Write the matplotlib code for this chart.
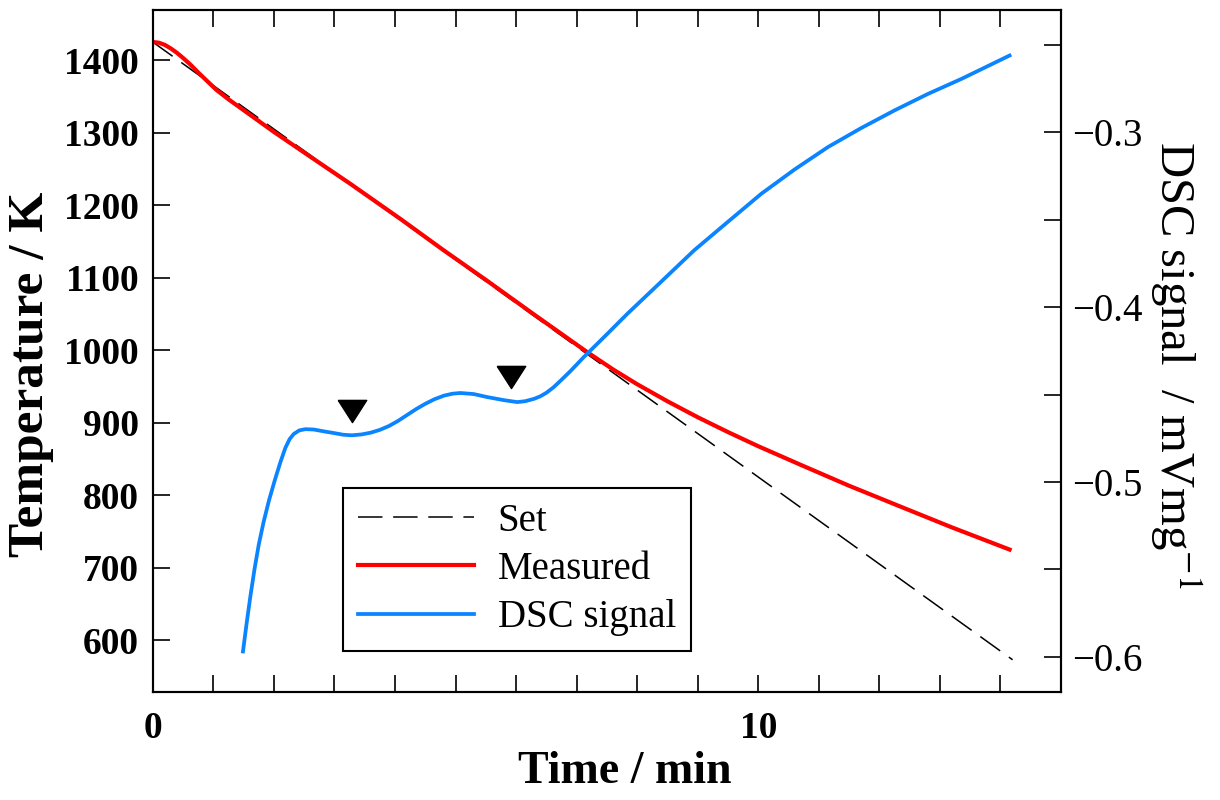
import numpy as np
import matplotlib
matplotlib.use("Agg")
import matplotlib.pyplot as plt
from matplotlib.ticker import MultipleLocator, FixedLocator

plt.rcParams['font.family'] = ['Liberation Serif', 'DejaVu Serif']
plt.rcParams['mathtext.fontset'] = 'stix'

# set temperature program (K vs min)
set_t = [0.0, 14.2]
set_T = [1425, 573]

# measured sample temperature
meas_t = [0.0, 0.1, 0.2, 0.3, 0.4, 0.5, 0.62, 0.75, 0.9, 1.05, 1.25, 1.45, 1.7, 2.0,
          2.44, 3.27, 4.09, 4.8, 5.5, 6.3, 7.18, 7.6, 8.0, 8.5, 9.0, 9.5, 10.0, 10.71,
          11.5, 12.37, 13.2, 14.15]
meas_T = [1425, 1424, 1421, 1416, 1410, 1403, 1394, 1383, 1371, 1359, 1346, 1334, 1319,
          1301, 1276, 1229, 1181, 1138, 1097, 1049, 997, 973.5, 953, 929.5, 907.5, 887,
          867.5, 841.5, 813, 783.5, 755.5, 725]

# DSC signal (mV/mg)
dsc_t = [1.49, 1.55, 1.61, 1.68, 1.75, 1.83, 1.92, 2.02, 2.11, 2.19, 2.26, 2.33, 2.42,
         2.52, 2.66, 2.85, 2.99, 3.15, 3.29, 3.45, 3.6, 3.75, 3.9, 4.05, 4.2, 4.35, 4.5,
         4.65, 4.81, 4.95, 5.08, 5.3, 5.52, 5.8, 6.02, 6.15, 6.3, 6.4, 6.5, 6.62, 6.74,
         6.9, 7.12, 7.5, 7.84, 8.3, 8.94, 9.5, 10.05, 10.6, 11.15, 11.7, 12.25, 12.8,
         13.36, 14.15]
dsc_S = [-0.597, -0.581, -0.566, -0.550, -0.536, -0.523, -0.5105, -0.4985, -0.4885,
         -0.4805, -0.4755, -0.4725, -0.4705, -0.4698, -0.4700, -0.4712, -0.472, -0.473,
         -0.4733, -0.4728, -0.4718, -0.4702, -0.4680, -0.4651, -0.4617, -0.4583, -0.4553,
         -0.4527, -0.4506, -0.4495, -0.4491, -0.4497, -0.4514, -0.4532, -0.4543, -0.4538,
         -0.4524, -0.4510, -0.4490, -0.4458, -0.4419, -0.4365, -0.4285, -0.4155, -0.4037,
         -0.3886, -0.3675, -0.3511, -0.3351, -0.3212, -0.3084, -0.2975, -0.2874, -0.2780,
         -0.2693, -0.256]

# arrow heads marking the peaks
peak_t = [3.285, 5.915]
peak_S = [-0.4594, -0.4402]

fig = plt.figure(figsize=(12.2, 8), dpi=100)
ax = fig.add_axes([0.1252, 0.1354, 0.7445, 0.852])
ax2 = ax.twinx()

l1, = ax.plot(set_t, set_T, color='black', lw=1.1, dashes=(16, 7), label='Set')
l2, = ax.plot(meas_t, meas_T, color='#ff0000', lw=3.0, label='Measured',
              solid_joinstyle='round')
l3, = ax2.plot(dsc_t, dsc_S, color='#0a84ff', lw=2.7, label='DSC signal',
               solid_joinstyle='round')
tri = [(-1, 0.78), (1, 0.78), (0, -0.78), (-1, 0.78)]
ax2.plot(peak_t, peak_S, ls='none', marker=tri, ms=20.5, color='black')

ax.set_xlim(0, 15)
ax.set_ylim(529, 1469)
ax2.set_ylim(-0.62, -0.23)

ax.xaxis.set_major_locator(FixedLocator([0, 10]))
ax.xaxis.set_minor_locator(MultipleLocator(1))
ax.yaxis.set_major_locator(MultipleLocator(100))
ax2.yaxis.set_major_locator(MultipleLocator(0.1))
ax2.yaxis.set_minor_locator(MultipleLocator(0.05))
ax2.yaxis.set_major_formatter(plt.FuncFormatter(
    lambda v, p: '\u2212%.1f' % abs(v) if v < 0 else '%.1f' % v))

for a in (ax, ax2):
    for s in a.spines.values():
        s.set_linewidth(1.5)

ax.tick_params(which='both', direction='in', length=12.5, width=1.2, top=True, right=False)
ax.tick_params(axis='x', pad=14)
ax.tick_params(axis='y', pad=10)
ax2.tick_params(which='both', direction='in', length=12.5, width=1.2, pad=8, labelsize=28)
for lab in ax.get_xticklabels() + ax.get_yticklabels():
    lab.set_fontsize(27)
    lab.set_fontweight('bold')

ax.set_xlabel('Time / min', fontsize=33, fontweight='bold', va='top')
ax.xaxis.set_label_coords(0.52, -0.087)
ax.set_ylabel('Temperature / K', fontsize=37, fontweight='bold', va='center')
ax.yaxis.set_label_coords(-0.134, 0.466)
ax2.set_ylabel('DSC signal  / mVmg$^{-1}$', fontsize=35, rotation=270, va='center')
ax2.yaxis.set_label_coords(1.126, 0.479)

leg = ax.legend(handles=[l1, l2, l3], loc='upper left', bbox_to_anchor=(0.2095, 0.2988),
                borderaxespad=0, fontsize=28, handlelength=3.0, handletextpad=0.6,
                labelspacing=0.29, borderpad=0.38, fancybox=False, framealpha=1,
                edgecolor='black')
leg.get_frame().set_linewidth(1.5)

fig.savefig('out.png', dpi=100)
